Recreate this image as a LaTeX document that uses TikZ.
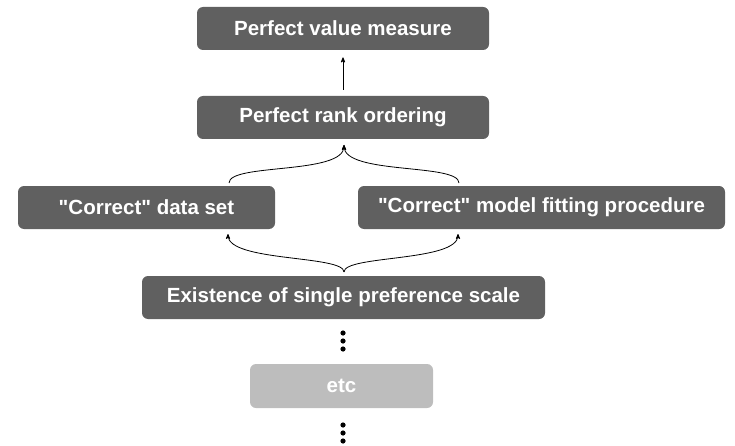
\documentclass[tikz,border=0pt]{standalone}
\usepackage{fontspec}
\setmainfont{Liberation Sans}[Ligatures=TeXOff]
\usepackage{tikz}
\usetikzlibrary{arrows, positioning}
\usepackage{xcolor}
\definecolor{boxdark}{HTML}{606060}
\definecolor{boxlight}{HTML}{BDBDBD}

\begin{document}
\begin{tikzpicture}[x=1pt,y=1pt,>=stealth',line width=0.8pt]
  \tikzstyle{box}=[rectangle,rounded corners=6pt,fill=boxdark,text=white,
    minimum height=43pt,inner sep=0pt,
    font=\fontsize{20.5}{24}\selectfont\bfseries]
  \useasboundingbox (0,0) rectangle (735,445);

  \node[box,minimum width=292pt] (value) at (343,416.5)   {Perfect value measure};
  \node[box,minimum width=292pt] (rank)  at (343,327.5)   {Perfect rank ordering};
  \node[box,minimum width=257pt] (data)  at (146.5,237.5) {"Correct" data set};
  \node[box,minimum width=367pt] (model) at (541.5,237.5) {"Correct" model fitting procedure};
  \node[box,minimum width=403pt] (scale) at (343.5,147.5) {Existence of single preference scale};
  \node[box,minimum width=183pt,minimum height=44pt,fill=boxlight] (etc) at (341.5,59) {etc};

  \coordinate (dtop) at (229,262);
  \coordinate (mtop) at (459,262);
  \coordinate (rbot) at (344,300);
  \coordinate (sbot) at (344,173);
  \coordinate (dbot) at (228,211);
  \coordinate (mbot) at (458,211);

  \draw[->,shorten <=6pt,shorten >=7pt] (rank) -- (value);
  \draw[->] (dtop) .. controls +(0,20) and +(0,-30) .. (rbot);
  \draw[->] (mtop) .. controls +(0,20) and +(0,-30) .. (rbot);
  \draw[->] (sbot) .. controls +(0,17) and +(0,-28) .. (dbot);
  \draw[->] (sbot) .. controls +(0,17) and +(0,-28) .. (mbot);

  % vertical dots
  \foreach \y in {96,104,112,4,12,20}
    \fill (343,\y) circle (2.6pt);
\end{tikzpicture}
\end{document}
